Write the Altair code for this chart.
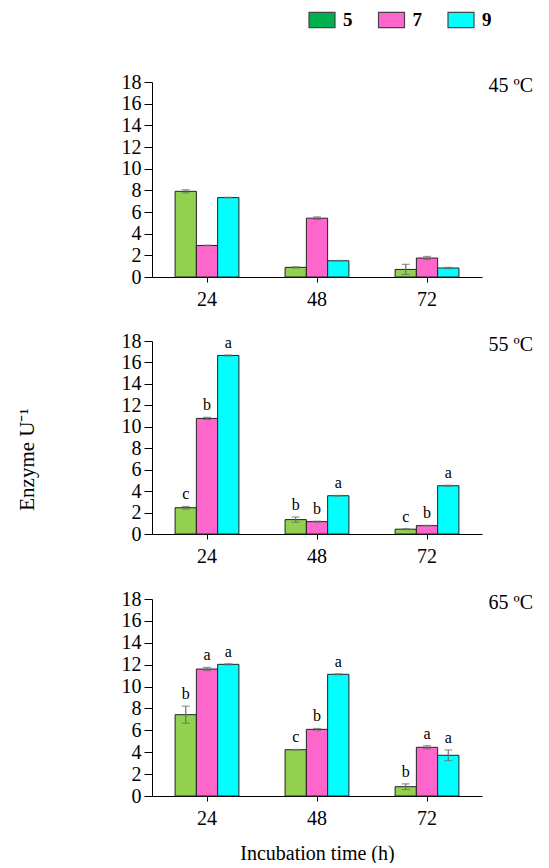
import altair as alt
import pandas as pd

times = ["24", "48", "72"]
ph_levels = ["5", "7", "9"]
panel_labels = ["45 ºC", "55 ºC", "65 ºC"]

bar_colors = ["#92D050", "#FF66CC", "#00FFFF"]
legend_colors = ["#00B050", "#FF66CC", "#00FFFF"]

# values per time (rows) and pH (cols)
vals_45 = [[7.91, 2.91, 7.33], [0.89, 5.43, 1.50], [0.70, 1.75, 0.83]]
err_45 = [[0.15, 0.03, 0.03], [0.05, 0.12, 0.03], [0.47, 0.15, 0.06]]
let_45 = [["", "", ""], ["", "", ""], ["", "", ""]]

vals_55 = [[2.45, 10.78, 16.65], [1.34, 1.15, 3.57], [0.45, 0.78, 4.50]]
err_55 = [[0.12, 0.10, 0.05], [0.25, 0.05, 0.03], [0.05, 0.03, 0.05]]
let_55 = [["c", "b", "a"], ["b", "b", "a"], ["c", "b", "a"]]

vals_65 = [[7.43, 11.60, 12.03], [4.23, 6.09, 11.12], [0.85, 4.45, 3.72]]
err_65 = [[0.78, 0.15, 0.05], [0.02, 0.08, 0.05], [0.26, 0.15, 0.49]]
let_65 = [["b", "a", "a"], ["c", "b", "a"], ["b", "a", "a"]]

SERIF = "Liberation Serif"


def make_df(vals, errs, lets):
    rows = []
    for i, t in enumerate(times):
        for j, p in enumerate(ph_levels):
            v = vals[i][j]
            e = errs[i][j]
            rows.append({"time": t, "ph": p, "value": v, "lo": v - e,
                         "hi": v + e, "letter": lets[i][j]})
    return pd.DataFrame(rows)


def panel(df, label, height, y_title=False, x_title=False):
    x_axis = alt.Axis(labelAngle=0, tickSize=5, labelPadding=7,
                      title="Incubation time (h)" if x_title else None,
                      titlePadding=15, titleFontSize=20)
    x = alt.X("time:N", sort=times,
              scale=alt.Scale(paddingInner=0.42, paddingOuter=0.21),
              axis=x_axis)
    xo = alt.XOffset("ph:N", sort=ph_levels,
                     scale=alt.Scale(paddingInner=0, paddingOuter=0))
    if y_title:
        y_axis = alt.Axis(values=list(range(0, 19, 2)), tickSize=8,
                          labelPadding=3, title="Enzyme U⁻¹",
                          titlePadding=84, titleY=118)
    else:
        y_axis = alt.Axis(values=list(range(0, 19, 2)), tickSize=8,
                          labelPadding=3, title=None)
    yscale = alt.Scale(domain=[0, 18], nice=False)

    base = alt.Chart(df)
    bars = base.mark_bar(stroke="#222222", strokeWidth=1).encode(
        x=x, xOffset=xo,
        y=alt.Y("value:Q", scale=yscale, axis=y_axis),
        color=alt.Color("ph:N", sort=ph_levels,
                        scale=alt.Scale(domain=ph_levels, range=bar_colors),
                        legend=None),
    )
    rules = base.mark_rule(color="#6e6e6e", strokeWidth=1.2).encode(
        x=x, xOffset=xo,
        y=alt.Y("lo:Q", scale=yscale, axis=y_axis), y2="hi:Q")
    cap_hi = base.mark_tick(color="#6e6e6e", size=8, thickness=1.2).encode(
        x=x, xOffset=xo, y=alt.Y("hi:Q", scale=yscale, axis=y_axis))
    cap_lo = base.mark_tick(color="#6e6e6e", size=8, thickness=1.2).encode(
        x=x, xOffset=xo, y=alt.Y("lo:Q", scale=yscale, axis=y_axis))
    letters = base.mark_text(font=SERIF, fontSize=16, dy=-4,
                             baseline="bottom", color="black").encode(
        x=x, xOffset=xo, y=alt.Y("hi:Q", scale=yscale, axis=y_axis),
        text="letter:N")
    return alt.layer(bars, rules, cap_hi, cap_lo, letters).properties(
        width=330, height=height,
        title=alt.TitleParams(label, anchor="end", frame="group",
                              orient="top", dx=51, offset=-24,
                              font=SERIF, fontSize=20, fontWeight="normal",
                              color="black"),
    )


p1 = panel(make_df(vals_45, err_45, let_45), panel_labels[0], 195)
p2 = panel(make_df(vals_55, err_55, let_55), panel_labels[1], 193,
           y_title=True)
p3 = panel(make_df(vals_65, err_65, let_65), panel_labels[2], 197,
           x_title=True)

leg_df = pd.DataFrame({"ph": ph_levels, "color": legend_colors})
leg_x = alt.X("ph:N", sort=ph_levels, axis=None,
              scale=alt.Scale(type="point", range=[170, 309], padding=0))
leg_sym = alt.Chart(leg_df).mark_point(
    shape="M-1,-0.58H1V0.58H-1Z", size=676, filled=True, opacity=1,
    stroke="#444444", strokeWidth=1.2).encode(
    x=leg_x, fill=alt.Fill("color:N", scale=None))
leg_txt = alt.Chart(leg_df).mark_text(
    align="left", dx=21, font=SERIF, fontSize=19, fontWeight="bold",
    color="black").encode(x=leg_x, text="ph:N")
legend = alt.layer(leg_sym, leg_txt).properties(width=330, height=24)

top_two = alt.vconcat(p1, p2, spacing=22)
panels = alt.vconcat(top_two, p3, spacing=23)
chart = alt.vconcat(legend, panels, spacing=40).properties(
    padding={"left": 8, "top": 0, "right": 0, "bottom": 0}
).configure_view(stroke=None).configure_axis(
    labelFont=SERIF, labelFontSize=20, labelColor="black",
    titleFont=SERIF, titleFontSize=21, titleFontWeight="normal",
    titleColor="black", domainColor="black", tickColor="black",
    grid=False,
)

chart.save("out.html", embed_options={"renderer": "svg", "actions": False})
